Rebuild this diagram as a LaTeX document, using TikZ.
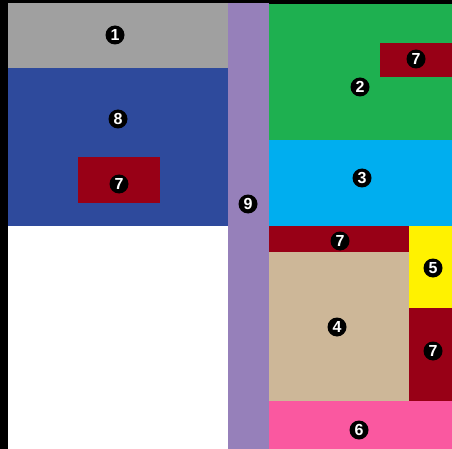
\documentclass[tikz,border=0pt]{standalone}
\usepackage{tikz}
\usepackage{fontspec}
\setsansfont{Liberation Sans}
\definecolor{PlanGray}{RGB}{160,160,160}
\definecolor{PlanBlue}{RGB}{46,74,156}
\definecolor{PlanRed}{RGB}{152,0,22}
\definecolor{PlanPurple}{RGB}{150,128,186}
\definecolor{PlanGreen}{RGB}{30,176,80}
\definecolor{PlanCyan}{RGB}{0,174,239}
\definecolor{PlanYellow}{RGB}{255,242,0}
\definecolor{PlanTan}{RGB}{205,183,152}
\definecolor{PlanPink}{RGB}{250,88,160}

\begin{document}
\begin{tikzpicture}[x=1pt, y=-1pt,
    badge/.style={circle, fill=black, text=white, inner sep=0pt, minimum size=19pt,
        font=\sffamily\bfseries\fontsize{16}{16}\selectfont}]
    \useasboundingbox (0,0) rectangle (452,449);
    % frame and left column
    \fill[black] (0,0) rectangle (452,449);
    \fill[white] (8,226) rectangle (228,449);
    \fill[PlanGray] (8,3) rectangle (228,68);
    \fill[PlanBlue] (8,68) rectangle (228,226);
    \fill[PlanRed] (78,157) rectangle (160,203);
    \fill[PlanPurple] (228,3) rectangle (269,449);
    % right column
    \fill[PlanGreen] (269,4) rectangle (452,140);
    \fill[PlanRed] (380,43) rectangle (452,77);
    \fill[PlanCyan] (269,140) rectangle (452,226);
    \fill[PlanRed] (269,226) rectangle (409,252);
    \fill[PlanTan] (269,252) rectangle (409,401);
    \fill[PlanYellow] (409,226) rectangle (452,308);
    \fill[PlanRed] (409,308) rectangle (452,401);
    \fill[PlanPink] (269,401) rectangle (452,449);
    % numbers
    \node[badge] (n1) at (115,35) {1};
    \node[badge] (n8) at (118,119) {8};
    \node[badge] (n7a) at (119,184) {7};
    \node[badge] (n9) at (248,204) {9};
    \node[badge] (n2) at (360,87) {2};
    \node[badge] (n7b) at (416,59) {7};
    \node[badge] (n3) at (362,178) {3};
    \node[badge] (n7c) at (340,241) {7};
    \node[badge] (n5) at (433,268) {5};
    \node[badge] (n4) at (337,327) {4};
    \node[badge] (n7d) at (433,351) {7};
    \node[badge] (n6) at (359,430) {6};
\end{tikzpicture}
\end{document}
